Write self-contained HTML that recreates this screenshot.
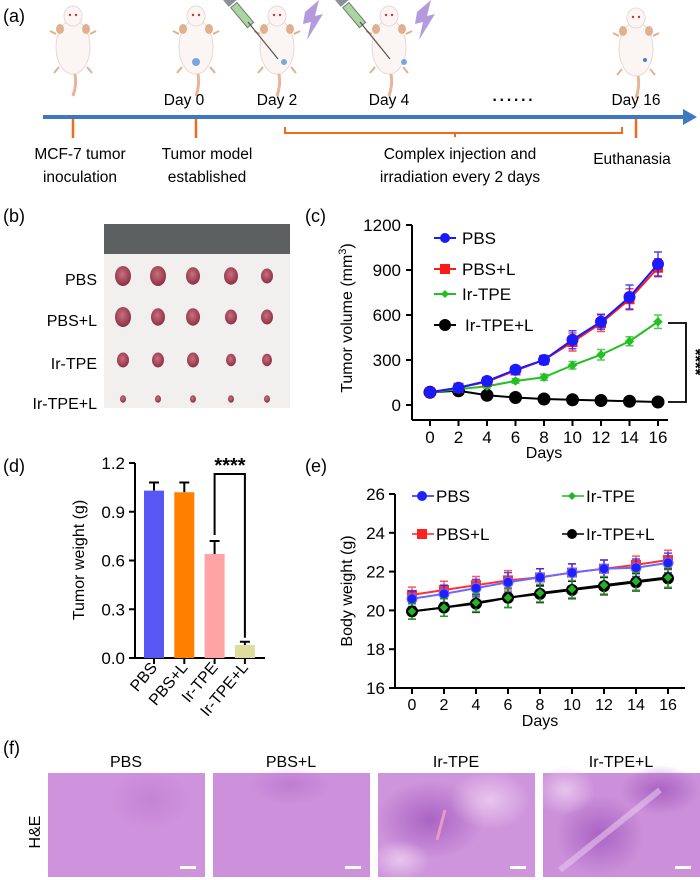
<!DOCTYPE html>
<html><head><meta charset="utf-8">
<style>
html,body{margin:0;padding:0;background:#fff;}
svg{display:block;font-family:"Liberation Sans",Arial,sans-serif;}
</style></head>
<body>
<svg id="fig" width="700" height="880" viewBox="0 0 700 880">
<defs>
  <radialGradient id="tum" cx="0.45" cy="0.4" r="0.6"><stop offset="0" stop-color="#c7707e"/><stop offset="1" stop-color="#8e2f45"/></radialGradient>
  <radialGradient id="blot" cx="0.5" cy="0.5" r="0.5"><stop offset="0" stop-color="#9a4fb8" stop-opacity="0.7"/><stop offset="1" stop-color="#9a4fb8" stop-opacity="0"/></radialGradient>
  <radialGradient id="pale" cx="0.5" cy="0.5" r="0.5"><stop offset="0" stop-color="#efd2f2" stop-opacity="0.8"/><stop offset="1" stop-color="#efd2f2" stop-opacity="0"/></radialGradient>
  <g id="mouse">
    <ellipse cx="0" cy="35" rx="17" ry="27" fill="#fbf6f4" stroke="#e6d9d4"/>
    <ellipse cx="0" cy="4" rx="9" ry="10" fill="#fbf6f4" stroke="#e6d9d4"/>
    <circle cx="-3" cy="3" r="1.2" fill="#c33"/><circle cx="3" cy="3" r="1.2" fill="#c33"/>
    <ellipse cx="-13" cy="17" rx="4" ry="5" fill="#e2b08f"/><ellipse cx="13" cy="17" rx="4" ry="5" fill="#e2b08f"/>
    <path d="M-17 22 l-6 -3 M17 22 l6 -3 M-14 55 l-5 6 M14 55 l5 6" stroke="#e2b08f" stroke-width="2"/>
    <path d="M2 62 q2 10 -2 22" stroke="#e8b596" stroke-width="3" fill="none"/>
  </g>
  <g id="syr">
    <rect x="-4" y="-22" width="8" height="26" fill="#a8d8a0" stroke="#777" transform="rotate(-40)"/>
    <line x1="0" y1="0" x2="30" y2="37" stroke="#555" stroke-width="1.2"/>
    <rect x="-5" y="-34" width="10" height="10" fill="#8a9298" transform="rotate(-40)"/>
  </g>
  <polygon id="bolt" points="0,0 14,-12 10,4 18,2 2,28 6,10 -2,12" fill="#a68ad8" opacity="0.85"/>
</defs>

<!-- Panel a -->
<g>
  <text x="3" y="22" font-size="18">(a)</text>
  <use href="#mouse" x="73" y="12"/>
  <use href="#mouse" x="196" y="12"/>
  <circle cx="196" cy="62" r="4" fill="#7aa7dd"/>
  <use href="#mouse" x="277" y="12"/>
  <circle cx="284" cy="62" r="3" fill="#7aa7dd"/>
  <use href="#syr" x="248" y="22"/>
  <use href="#bolt" x="305" y="12"/>
  <use href="#mouse" x="389" y="12"/>
  <circle cx="404" cy="62" r="3" fill="#7aa7dd"/>
  <use href="#syr" x="360" y="22"/>
  <use href="#bolt" x="417" y="12"/>
  <use href="#mouse" x="636" y="14"/>
  <circle cx="645" cy="60" r="2" fill="#4a7ed0"/>
  <line x1="43" y1="117" x2="686" y2="117" stroke="#3d78c0" stroke-width="4"/>
  <polygon points="683,109 697,117 683,125" fill="#3d78c0"/>
  <g stroke="#ef6c1d" stroke-width="2.5" fill="none">
    <line x1="73" y1="119" x2="73" y2="138"/>
    <line x1="196" y1="119" x2="196" y2="138"/>
    <line x1="636" y1="119" x2="636" y2="138"/>
    <path d="M285 127 V133 H622 V127 M455 133 V137" stroke-width="2"/>
  </g>
  <g font-size="15.5" text-anchor="middle">
    <text x="184" y="105">Day 0</text>
    <text x="277" y="105">Day 2</text>
    <text x="389" y="105">Day 4</text>
    <text x="514" y="105" font-weight="bold" letter-spacing="2">······</text>
    <text x="636" y="105">Day 16</text>
    <text x="80" y="159">MCF-7 tumor</text>
    <text x="80" y="182">inoculation</text>
    <text x="207" y="159">Tumor model</text>
    <text x="207" y="182">established</text>
    <text x="460" y="159">Complex injection and</text>
    <text x="460" y="182">irradiation every 2 days</text>
    <text x="632" y="164">Euthanasia</text>
  </g>
</g>

<!-- Panel b -->
<g>
  <text x="3" y="222" font-size="18">(b)</text>
  <rect x="104" y="224" width="186" height="184" fill="#f1f0ee"/>
  <rect x="104" y="224" width="186" height="30" fill="#5d6060"/>
  <g font-size="16" text-anchor="end">
    <text x="97" y="285">PBS</text>
    <text x="97" y="326">PBS+L</text>
    <text x="97" y="369">Ir-TPE</text>
    <text x="97" y="409">Ir-TPE+L</text>
  </g>
  <g id="tumors" fill="url(#tum)"></g>
</g>

<!-- Panel c -->
<g id="pc">
  <text x="305" y="222" font-size="18">(c)</text>
</g>
<!-- Panel d -->
<g id="pd">
  <text x="3" y="472" font-size="18">(d)</text>
</g>
<!-- Panel e -->
<g id="pe">
  <text x="305" y="472" font-size="18">(e)</text>
</g>

<!-- Panel f -->
<g>
  <text x="3" y="754" font-size="18">(f)</text>
  <text transform="translate(40,832) rotate(-90)" font-size="16" text-anchor="middle">H&amp;E</text>
  <g font-size="16" text-anchor="middle">
    <text x="126" y="767">PBS</text>
    <text x="291" y="767">PBS+L</text>
    <text x="456" y="767">Ir-TPE</text>
    <text x="621" y="767">Ir-TPE+L</text>
  </g>
  <g>
    <rect x="48" y="773" width="157" height="104" fill="#cf92dc"/>
    <ellipse cx="150" cy="800" rx="40" ry="30" fill="url(#blot)" opacity="0.3"/>
    <rect x="180" y="866" width="16" height="3" fill="#fff"/>
  </g>
  <g>
    <rect x="213" y="773" width="157" height="104" fill="#cd90db"/>
    <ellipse cx="290" cy="785" rx="40" ry="20" fill="url(#blot)" opacity="0.4"/>
    <rect x="345" y="866" width="16" height="3" fill="#fff"/>
  </g>
  <g>
    <rect x="378" y="773" width="157" height="104" fill="#cf95dc"/>
    <ellipse cx="430" cy="820" rx="55" ry="40" fill="url(#blot)"/>
    <ellipse cx="490" cy="800" rx="40" ry="30" fill="url(#pale)"/>
    <ellipse cx="400" cy="860" rx="30" ry="20" fill="url(#pale)"/>
    <line x1="445" y1="810" x2="437" y2="840" stroke="#e79ac6" stroke-width="3"/>
    <rect x="510" y="866" width="16" height="3" fill="#fff"/>
  </g>
  <g>
    <rect x="543" y="773" width="157" height="104" fill="#cc90da"/>
    <ellipse cx="600" cy="835" rx="45" ry="40" fill="url(#blot)"/>
    <ellipse cx="660" cy="790" rx="40" ry="25" fill="url(#blot)"/>
    <ellipse cx="565" cy="790" rx="30" ry="25" fill="url(#pale)"/>
    <path d="M560 870 L660 790" stroke="#e8c6ef" stroke-width="6" opacity="0.6"/>
    <rect x="675" y="866" width="16" height="3" fill="#fff"/>
  </g>
</g>
</svg>

<script>
var NS="http://www.w3.org/2000/svg";
function mk(parent,tag,attrs,txt){var e=document.createElementNS(NS,tag);for(var k in attrs)e.setAttribute(k,attrs[k]);if(txt!==undefined)e.textContent=txt;parent.appendChild(e);return e;}

// tumors photo
var tg=document.getElementById('tumors');
var tumorRows=[280,321,364,403];
var tumorSizes=[[8,8,7,7,6],[8,7,7,6,6],[6,6,6,5,5],[3,3,3,3,3]];
var tumorCols=[123,158,193,231,267];
for(var r=0;r<4;r++)for(var c=0;c<5;c++){
  var e=mk(tg,'ellipse',{cx:tumorCols[c],cy:tumorRows[r]-4,rx:tumorSizes[r][c],ry:tumorSizes[r][c]*1.25});
  
  
}

// ===== Panel c data =====
var cDays=[0,2,4,6,8,10,12,14,16];
var cPBS=[85,115,160,235,300,435,555,720,940];
var cPBSL=[85,115,155,230,300,420,545,705,915];
var cIr=[85,105,125,160,185,265,335,425,555];
var cIrL=[85,95,65,50,40,35,30,25,20];
var cErrPBS=[10,12,15,20,30,60,50,80,80];
var cErrPBSL=[10,12,15,20,30,60,55,70,60];
var cErrIr=[8,10,12,15,20,25,35,30,45];
var cErrIrL=[5,5,5,5,5,5,5,5,5];
var cYTicks=[0,300,600,900,1200];

var pc=document.getElementById('pc');
function cx(d){return 430+(d-0)*(658-430)/16;}
function cy(v){return 405-v*(405-225)/1200;}
mk(pc,'line',{x1:412,y1:225,x2:412,y2:420,stroke:'#000','stroke-width':2});
mk(pc,'line',{x1:412,y1:420,x2:668,y2:420,stroke:'#000','stroke-width':2});
cYTicks.forEach(function(t){
  mk(pc,'line',{x1:406,y1:cy(t),x2:412,y2:cy(t),stroke:'#000','stroke-width':2});
  var e=mk(pc,'text',{x:401,y:cy(t)+6,'font-size':17,'text-anchor':'end'},t);
  
  
});
cDays.forEach(function(d){
  mk(pc,'line',{x1:cx(d),y1:420,x2:cx(d),y2:426,stroke:'#000','stroke-width':2});
  var e=mk(pc,'text',{x:cx(d),y:443,'font-size':17,'text-anchor':'middle'},d);
  
  
});
var ct=mk(pc,'text',{x:cx(8),y:458,'font-size':16,'text-anchor':'middle'},'Days');


var cyT=mk(pc,'text',{transform:'translate(352,318) rotate(-90)','font-size':16,'text-anchor':'middle'});


cyT.innerHTML='Tumor volume (mm<tspan dy="-6" font-size="11">3</tspan><tspan dy="6">)</tspan>';

function series(g,xs,ys,errs,xf,yf,color,marker,size,name,stroke){
  var grp=mk(g,'g',{});
  
  
  var pts=xs.map(function(x,i){return xf(x)+','+yf(ys[i]);}).join(' ');
  mk(grp,'polyline',{points:pts,fill:'none',stroke:stroke||color,'stroke-width':2});
  xs.forEach(function(x,i){
    var X=xf(x),Y1=yf(ys[i]+errs[i]),Y2=yf(ys[i]-errs[i]);
    mk(grp,'path',{d:'M'+X+' '+Y1+'V'+Y2+'M'+(X-4)+' '+Y1+'h8M'+(X-4)+' '+Y2+'h8',stroke:color,'stroke-width':1.5,fill:'none',opacity:0.8});
  });
  xs.forEach(function(x,i){
    var X=xf(x),Y=yf(ys[i]),m;
    if(marker==='circle')m=mk(grp,'circle',{cx:X,cy:Y,r:size,fill:color,stroke:stroke||color});
    else if(marker==='square')m=mk(grp,'rect',{x:X-size,y:Y-size,width:2*size,height:2*size,fill:color});
    else m=mk(grp,'polygon',{points:X+','+(Y-size)+' '+(X+size)+','+Y+' '+X+','+(Y+size)+' '+(X-size)+','+Y,fill:color,stroke:stroke||color});
    
    
  });
}
series(pc,cDays,cIrL,cErrIrL,cx,cy,'#000','circle',6,'series-ir-tpe-l');
series(pc,cDays,cIr,cErrIr,cx,cy,'#22c022','diamond',4,'series-ir-tpe');
series(pc,cDays,cPBSL,cErrPBSL,cx,cy,'#ff1a1a','square',5,'series-pbs-l');
series(pc,cDays,cPBS,cErrPBS,cx,cy,'#1a1aff','circle',5.5,'series-pbs');
mk(pc,'path',{d:'M668 323 H686 V402 H668',fill:'none',stroke:'#000','stroke-width':1.8});
var st=mk(pc,'text',{transform:'translate(690,362) rotate(90)','font-size':17,'font-weight':'bold','text-anchor':'middle'},'****');


var cLeg=[['PBS','#1a1aff','circle',238],['PBS+L','#ff1a1a','square',269],['Ir-TPE','#22c022','diamond',294],['Ir-TPE+L','#000','circle',325]];
cLeg.forEach(function(l){
  var g=mk(pc,'g',{});
  
  
  mk(g,'line',{x1:434,y1:l[3],x2:456,y2:l[3],stroke:l[1],'stroke-width':2});
  if(l[2]==='circle')mk(g,'circle',{cx:445,cy:l[3],r:l[0]==='Ir-TPE+L'?6:5,fill:l[1]});
  else if(l[2]==='square')mk(g,'rect',{x:440,y:l[3]-5,width:10,height:10,fill:l[1]});
  else mk(g,'polygon',{points:'445,'+(l[3]-4)+' 449,'+l[3]+' 445,'+(l[3]+4)+' 441,'+l[3],fill:l[1]});
  mk(g,'text',{x:l[0]==='Ir-TPE+L'?465:462,y:l[3]+6,'font-size':17},l[0]);
});

// ===== Panel d data =====
var dGroups=['PBS','PBS+L','Ir-TPE','Ir-TPE+L'];
var dValues=[1.03,1.02,0.64,0.08];
var dErrors=[0.05,0.06,0.08,0.02];
var dColors=['#5757f5','#ff8000','#ffa4a4','#dedd9c'];
var dYTicks=[0.0,0.3,0.6,0.9,1.2];
var pd=document.getElementById('pd');
function dy(v){return 658-v*(658-463)/1.2;}
function dx(i){return 154+i*30.3;}
mk(pd,'line',{x1:135,y1:463,x2:135,y2:658,stroke:'#000','stroke-width':2});
mk(pd,'line',{x1:135,y1:658,x2:265,y2:658,stroke:'#000','stroke-width':2});
dYTicks.forEach(function(t){
  mk(pd,'line',{x1:129,y1:dy(t),x2:135,y2:dy(t),stroke:'#000','stroke-width':2});
  var e=mk(pd,'text',{x:125,y:dy(t)+6,'font-size':17,'text-anchor':'end'},t.toFixed(1));
  
  
});
dValues.forEach(function(v,i){
  var X=dx(i);
  mk(pd,'path',{d:'M'+X+' '+dy(v)+'V'+dy(v+dErrors[i])+'M'+(X-5)+' '+dy(v+dErrors[i])+'h10',stroke:'#000','stroke-width':2,fill:'none'});
  var b=mk(pd,'rect',{x:X-10,y:dy(v),width:20,height:dy(0)-dy(v),fill:dColors[i]});
  
  
  mk(pd,'line',{x1:X,y1:658,x2:X,y2:664,stroke:'#000','stroke-width':2});
  var e=mk(pd,'text',{transform:'translate('+(X+4)+',668) rotate(-50)','font-size':16,'text-anchor':'end'},dGroups[i]);
  
  
});
mk(pd,'path',{d:'M'+dx(2)+' '+(dy(dValues[2]+dErrors[2])-6)+' V474 H'+dx(3)+' V'+(dy(dValues[3]+dErrors[3])-4),fill:'none',stroke:'#000','stroke-width':2});
var ds=mk(pd,'text',{x:230,y:472,'font-size':20,'font-weight':'bold','text-anchor':'middle'},'****');


var dyt=mk(pd,'text',{transform:'translate(84,560) rotate(-90)','font-size':16,'text-anchor':'middle'},'Tumor weight (g)');



// ===== Panel e data =====
var eDays=[0,2,4,6,8,10,12,14,16];
var ePBS=[20.6,20.85,21.15,21.45,21.7,21.95,22.15,22.2,22.45];
var ePBSL=[20.8,21.05,21.3,21.55,21.7,21.95,22.15,22.35,22.6];
var eIr=[19.95,20.15,20.4,20.65,20.9,21.1,21.3,21.5,21.7];
var eIrL=[19.95,20.15,20.35,20.65,20.85,21.05,21.25,21.45,21.65];
var eErr=[0.4,0.45,0.45,0.5,0.45,0.45,0.45,0.45,0.5];
var eYTicks=[16,18,20,22,24,26];
var pe=document.getElementById('pe');
function ex(d){return 412+d*(668-412)/16;}
function ey(v){return 688-(v-16)*(688-494)/10;}
mk(pe,'line',{x1:395,y1:494,x2:395,y2:688,stroke:'#000','stroke-width':2});
mk(pe,'line',{x1:395,y1:688,x2:685,y2:688,stroke:'#000','stroke-width':2});
eYTicks.forEach(function(t){
  mk(pe,'line',{x1:389,y1:ey(t),x2:395,y2:ey(t),stroke:'#000','stroke-width':2});
  var e=mk(pe,'text',{x:385,y:ey(t)+6,'font-size':17,'text-anchor':'end'},t);
  
  
});
eDays.forEach(function(d){
  mk(pe,'line',{x1:ex(d),y1:688,x2:ex(d),y2:694,stroke:'#000','stroke-width':2});
  var e=mk(pe,'text',{x:ex(d),y:710,'font-size':16,'text-anchor':'middle'},d);
  
  
});
var et=mk(pe,'text',{x:ex(8),y:726,'font-size':16,'text-anchor':'middle'},'Days');


var eyt=mk(pe,'text',{transform:'translate(352,591) rotate(-90)','font-size':16,'text-anchor':'middle'},'Body weight (g)');


series(pe,eDays,ePBSL,eErr,ex,ey,'#ff3030','square',5,'series-pbs-l');
series(pe,eDays,ePBS,eErr,ex,ey,'#2020ff','circle',5,'series-pbs','#6a6aff');
series(pe,eDays,eIrL,eErr,ex,ey,'#000','circle',5.5,'series-ir-tpe-l');
series(pe,eDays,eIr,eErr,ex,ey,'#22b522','diamond',5,'series-ir-tpe','#000');
var eLeg=[['PBS','#2020ff','circle',412,496],['Ir-TPE','#22b522','diamond',562,496],['PBS+L','#ff2020','square',412,534],['Ir-TPE+L','#000','circle',562,534]];
eLeg.forEach(function(l){
  var g=mk(pe,'g',{});
  
  
  mk(g,'line',{x1:l[3],y1:l[4],x2:l[3]+22,y2:l[4],stroke:l[1],'stroke-width':1.5});
  var X=l[3]+10,Y=l[4];
  if(l[2]==='circle')mk(g,'circle',{cx:X,cy:Y,r:5,fill:l[1]});
  else if(l[2]==='square')mk(g,'rect',{x:X-5,y:Y-5,width:10,height:10,fill:l[1]});
  else mk(g,'polygon',{points:X+','+(Y-4)+' '+(X+4)+','+Y+' '+X+','+(Y+4)+' '+(X-4)+','+Y,fill:l[1]});
  mk(g,'text',{x:l[3]+24,y:l[4]+6,'font-size':17},l[0]);
});
</script>
</body></html>
